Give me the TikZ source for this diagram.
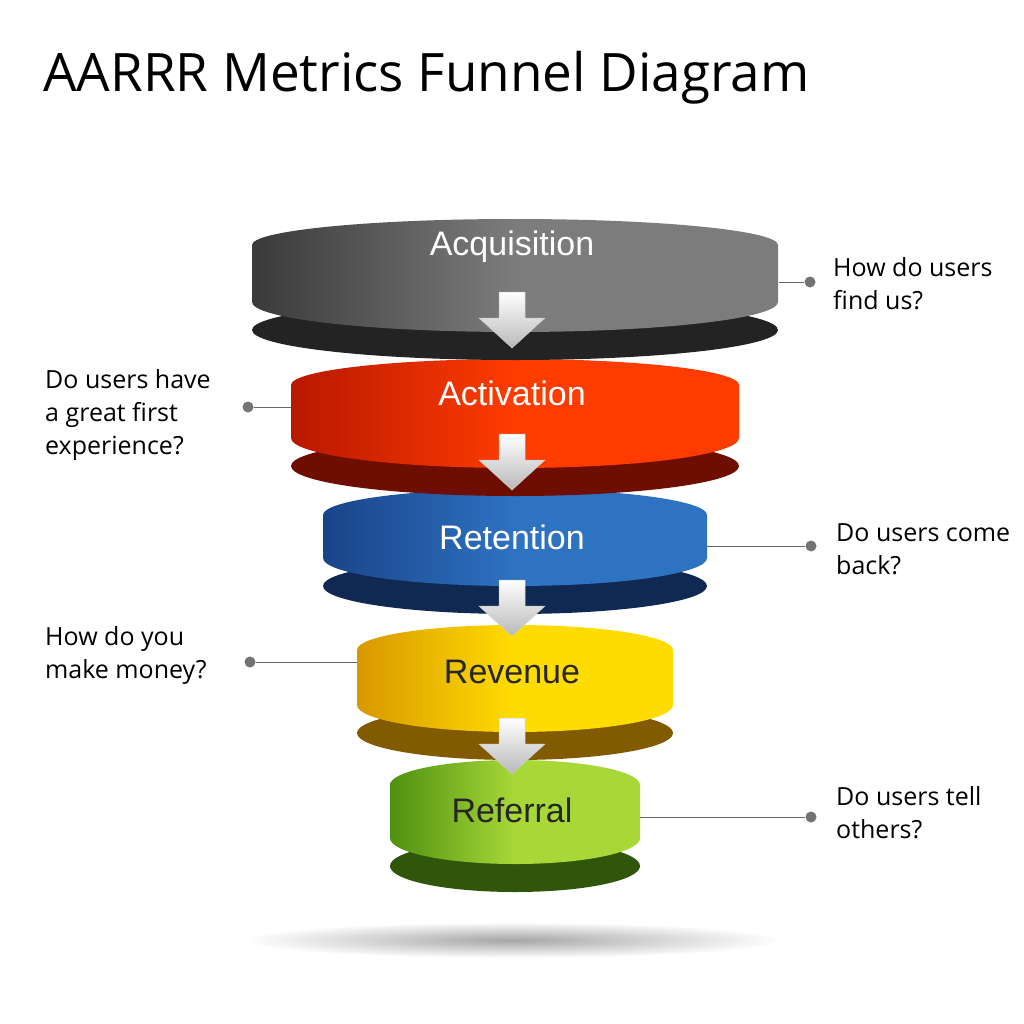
\documentclass[tikz,border=0pt]{standalone}
\usepackage{fontspec}
\setmainfont{Open Sans}
\newfontfamily\arialf{Liberation Sans}
\begin{document}
\begin{tikzpicture}[x=1pt,y=-1pt,
  tierlabel/.style={font=\arialf\fontsize{34}{37}\selectfont},
  note/.style={font=\fontsize{25}{33}\selectfont,align=left,anchor=north west,inner sep=0pt},
  dot/.style={circle,fill=gray!90!black,minimum size=11pt,inner sep=0pt},
  lead/.style={draw=gray!80!black,line width=1pt},
  darrow/.style={top color=white,bottom color=gray!55,draw=gray!40,line width=0.5pt}]
\fill[white] (0,0) rectangle (1024,1024);
\shade[inner color=gray!70,outer color=white] (512,940) ellipse (270 and 18);
\newcommand{\tier}[8]{%
  \fill[#7!60!black] (#1,#5) ellipse ({#2} and {#6});
  \shade[left color=#7,right color=#8,middle color=#8]
    (#1-#2,#3) arc[start angle=180,end angle=360,x radius=#2,y radius=#4]
    -- (#1+#2,#5-28) arc[start angle=0,end angle=180,x radius=#2,y radius=#6] -- cycle;
}
\definecolor{grL}{HTML}{3A3A3A}\definecolor{grR}{HTML}{7C7C7C}
\definecolor{rdL}{HTML}{B81800}\definecolor{rdR}{HTML}{FF3C00}
\definecolor{blL}{HTML}{1A4488}\definecolor{blR}{HTML}{2E72C2}
\definecolor{ylL}{HTML}{D89800}\definecolor{ylR}{HTML}{FFDC00}
\definecolor{gnL}{HTML}{4E9010}\definecolor{gnR}{HTML}{A8D838}
\tier{515}{125}{785}{25}{866}{26}{gnL}{gnR}
\tier{515}{158}{650}{25}{733}{27}{ylL}{ylR}
\tier{515}{192}{515}{26}{586}{28}{blL}{blR}
\tier{515}{224}{385}{26}{466}{30}{rdL}{rdR}
\tier{515}{263}{245}{26}{330}{30}{grL}{grR}
\node[tierlabel,text=white] (acq) at (512,247) {Acquisition};
\node[tierlabel,text=white] (act) at (512,393) {Activation};
\node[tierlabel,text=white] (ret) at (512,537) {Retention};
\node[tierlabel,text=black!85] (rev) at (512,672) {Revenue};
\node[tierlabel,text=black!85] (ref) at (512,810) {Referral};
\foreach \y in {292,434,580,718}{
  \shade[darrow] (499,\y) -- (525,\y) -- (525,\y+26) -- (545,\y+26) -- (512,\y+56) -- (479,\y+26) -- (499,\y+26) -- cycle;}
\node[note] (n1) at (833,257) {How do users\\find us?};
\node[dot] (d1) at (810,282) {}; \coordinate (c1) at (779,282); \draw[lead] (c1) -- (d1);
\node[note] (n2) at (45,369) {Do users have\\a great first\\experience?};
\node[dot] (d2) at (248,407) {}; \coordinate (c2) at (291,407); \draw[lead] (d2) -- (c2);
\node[note] (n3) at (836,523) {Do users come\\back?};
\node[dot] (d3) at (811,546) {}; \coordinate (c3) at (706,546); \draw[lead] (c3) -- (d3);
\node[note] (n4) at (45,626) {How do you\\make money?};
\node[dot] (d4) at (250,662) {}; \coordinate (c4) at (357,662); \draw[lead] (d4) -- (c4);
\node[note] (n5) at (836,786) {Do users tell\\others?};
\node[dot] (d5) at (811,817) {}; \coordinate (c5) at (640,817); \draw[lead] (c5) -- (d5);
\node[anchor=west,inner sep=0pt,font=\fontsize{53}{56}\selectfont] (title) at (43,78) {AARRR Metrics Funnel Diagram};
\end{tikzpicture}
\end{document}
